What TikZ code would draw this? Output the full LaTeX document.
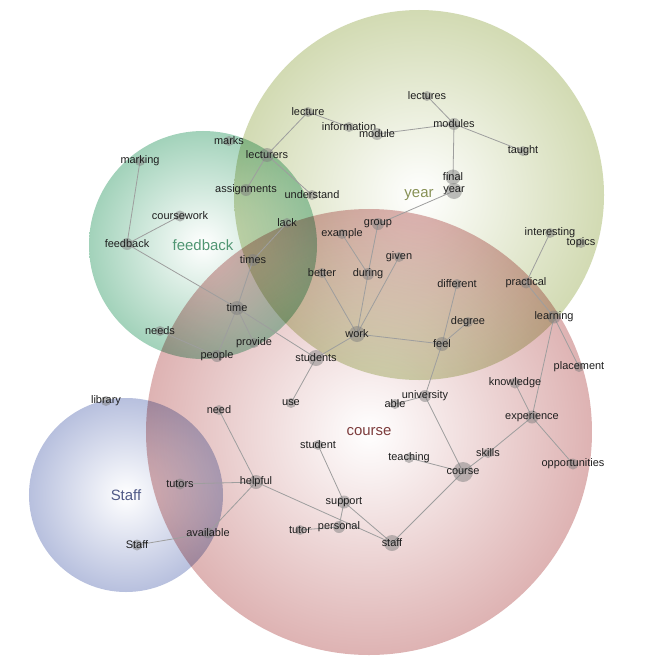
\documentclass[tikz,border=0pt]{standalone}
\usepackage{fontspec}
\newfontfamily\arialf{Liberation Sans}
\definecolor{yearc}{RGB}{180,194,128}
\definecolor{feedc}{RGB}{100,180,140}
\definecolor{coursec}{RGB}{200,128,128}
\definecolor{staffc}{RGB}{136,150,200}
\definecolor{yeart}{RGB}{135,145,85}
\definecolor{feedt}{RGB}{80,150,115}
\definecolor{courset}{RGB}{125,60,60}
\definecolor{stafft}{RGB}{80,90,135}
\pgfdeclareradialshading{yearsh}{\pgfpoint{0bp}{0bp}}{color(0bp)=(white); color(25bp)=(yearc!60!white); color(50bp)=(yearc)}
\pgfdeclareradialshading{feedsh}{\pgfpoint{0bp}{0bp}}{color(0bp)=(white); color(25bp)=(feedc!60!white); color(50bp)=(feedc)}
\pgfdeclareradialshading{coursesh}{\pgfpoint{0bp}{0bp}}{color(0bp)=(white); color(25bp)=(coursec!60!white); color(50bp)=(coursec)}
\pgfdeclareradialshading{staffsh}{\pgfpoint{0bp}{0bp}}{color(0bp)=(white); color(25bp)=(staffc!60!white); color(50bp)=(staffc)}
\pgfdeclarelayer{circ}
\pgfdeclarelayer{edges}
\pgfsetlayers{circ,edges,main}
\tikzset{
  dot/.style={circle, fill=black!50, fill opacity=0.5, draw=none, inner sep=0pt, minimum size=2*#1 bp},
  dot/.default=5,
  lab/.style={font=\arialf\fontsize{11}{13}\selectfont, text=black!88, inner sep=0pt, text opacity=1, fill opacity=1},
  clab/.style={font=\arialf\fontsize{15}{17}\selectfont, inner sep=0pt},
  edge/.style={draw=black!38, line width=0.8bp},
  venn/.style={blend mode=multiply}
}
\newcommand{\wnode}[4]{\node[dot=#4, label={[lab]center:#3}] (#1) at (#2) {};}
\begin{document}
\begin{tikzpicture}[x=1bp,y=-1bp]
\useasboundingbox (0,0) rectangle (656,670);
% word nodes
\wnode{lecture}{308,112}{lecture}{5}
\wnode{marks}{229,141}{marks}{5}
\wnode{lecturers}{267,155}{lecturers}{7}
\wnode{marking}{140,161}{marking}{5}
\wnode{assignments}{246,190}{assignments}{6}
\wnode{understand}{312,195}{understand}{5}
\wnode{coursework}{180,216}{coursework}{5.5}
\wnode{feedbackw}{127,244}{feedback}{6}
\wnode{lack}{287,223}{lack}{5}
\wnode{times}{253,260}{times}{6}
\wnode{better}{322,273}{better}{5}
\wnode{lectures}{427,96}{lectures}{5}
\wnode{information}{349,127}{information}{5}
\wnode{module}{377,134}{module}{6}
\wnode{modules}{454,124}{modules}{6}
\wnode{taught}{523,151}{taught}{5}
\wnode{final}{453,177}{final}{7.5}
\wnode{yearw}{454,191}{year}{8}
\wnode{group}{378,224}{group}{6}
\wnode{example}{342,234}{example}{5}
\wnode{given}{399,257}{given}{5}
\wnode{during}{368,274}{during}{6}
\wnode{different}{457,284}{different}{5}
\wnode{practical}{526,283}{practical}{5.5}
\wnode{interesting}{550,233}{interesting}{5}
\wnode{topics}{581,243}{topics}{5}
\wnode{time}{237,308}{time}{7}
\wnode{needs}{160,331}{needs}{5}
\wnode{provide}{254,343}{provide}{5}
\wnode{people}{217,356}{people}{6}
\wnode{students}{316,358}{students}{8}
\wnode{work}{357,334}{work}{8}
\wnode{feel}{442,344}{feel}{7}
\wnode{degree}{468,322}{degree}{5}
\wnode{use}{291,403}{use}{5}
\wnode{need}{219,410}{need}{5}
\wnode{able}{395,404}{able}{5}
\wnode{university}{425,396}{university}{6}
\wnode{learning}{554,317}{learning}{6.5}
\wnode{placement}{579,367}{placement}{5}
\wnode{knowledge}{515,383}{knowledge}{5.5}
\wnode{experience}{532,417}{experience}{6.5}
\wnode{skills}{488,453}{skills}{5}
\wnode{opportunities}{573,464}{opportunities}{5.5}
\wnode{coursew}{463,472}{course}{10}
\wnode{teaching}{409,458}{teaching}{5}
\wnode{library}{106,401}{library}{5}
\wnode{student}{318,445}{student}{5}
\wnode{tutors}{180,484}{tutors}{5.5}
\wnode{helpful}{256,482}{helpful}{7}
\wnode{support}{344,502}{support}{6.5}
\wnode{available}{208,533}{available}{5.5}
\wnode{Staffw}{137,545}{Staff}{5.5}
\wnode{tutor}{300,530}{tutor}{5}
\wnode{personal}{339,527}{personal}{6}
\wnode{staffw}{392,543}{staff}{8}
% circle labels
\node[clab, text=feedt] (feedbackC) at (203,245) {feedback};
\node[clab, text=yeart] (yearC) at (419,195) {year};
\node[clab, text=courset] (courseC) at (369,432) {course};
\node[clab, text=stafft] (StaffC) at (126,495) {Staff};
% circles
\begin{pgfonlayer}{circ}
\fill[white] (0,0) rectangle (656,670);
\shade[shading=yearsh, venn] (yearC.center) circle (185bp);
\shade[shading=feedsh, venn] (feedbackC.center) circle (114bp);
\shade[shading=coursesh, venn] (courseC.center) circle (223bp);
\shade[shading=staffsh, venn] (StaffC.center) circle (97bp);
\end{pgfonlayer}
% edges
\begin{pgfonlayer}{edges}
\foreach \a/\b in {lecture/lecturers, lecture/information, module/modules,
  modules/lectures, modules/taught, modules/final, yearw/group,
  group/during, during/work, example/during, given/work, better/work,
  lecturers/assignments, lecturers/understand, marking/feedbackw,
  coursework/feedbackw, feedbackw/time, lack/times, times/time, time/people,
  time/provide, time/students, needs/people, students/work, students/use,
  work/feel, feel/different, feel/degree, feel/university, university/able,
  university/coursew, coursew/teaching, coursew/skills, skills/experience,
  coursew/staffw, experience/knowledge, experience/opportunities,
  experience/learning, learning/practical, learning/placement,
  practical/interesting, need/helpful, helpful/tutors, helpful/available,
  helpful/staffw, available/Staffw, student/support, support/personal,
  support/staffw, personal/tutor}
  \draw[edge] (\a.center) -- (\b.center);
\end{pgfonlayer}
\end{tikzpicture}
\end{document}
